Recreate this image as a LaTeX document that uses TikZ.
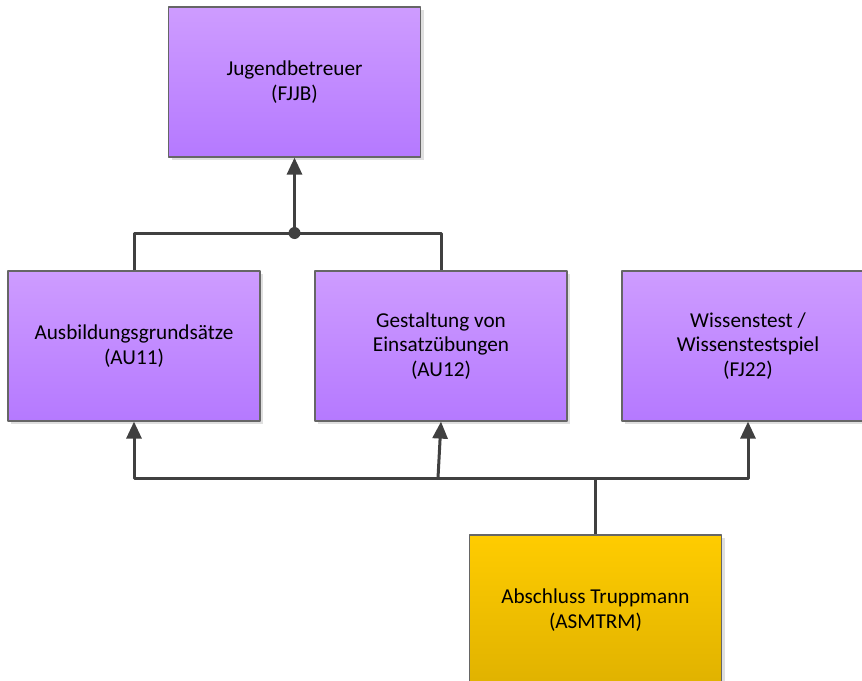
\documentclass[tikz,border=0pt]{standalone}
\usepackage{fontspec}
\setmainfont{Carlito}
\usetikzlibrary{arrows.meta,shadows}

\begin{document}
\begin{tikzpicture}[
    x = 0.5pt, y = -0.5pt,
    line join=round,
    kurs/.style = {draw=black!60, line width=0.6pt, minimum width=126pt, minimum height=75pt,
        align=center, font=\fontsize{10.6}{12.4}\selectfont,
        top color=violett, bottom color=violettd,
        drop shadow={shadow xshift=1.5pt, shadow yshift=-1.5pt, opacity=0.25}},
    ziel/.style = {kurs, top color=gelb, bottom color=gelbd},
    verb/.style = {draw=black!75, line width=1.5pt},
    pfeil/.style = {verb, -{Triangle[width=7.5pt, length=8.5pt]}}
]
\definecolor{violett}{RGB}{206,156,255}
\definecolor{violettd}{RGB}{181,121,255}
\definecolor{gelb}{RGB}{255,204,0}
\definecolor{gelbd}{RGB}{224,178,0}

\useasboundingbox (0,0) rectangle (862,680);
\clip (0,0) rectangle (862,680);

\node[kurs] (fjjb) at (294.5,82) {Jugendbetreuer\\(FJJB)};
\node[kurs] (au11) at (134,346) {Ausbildungsgrundsätze\\(AU11)};
\node[kurs] (au12) at (441,346) {Gestaltung von\\Einsatzübungen\\(AU12)};
\node[kurs] (fj22) at (748,346) {Wissenstest /\\Wissenstestspiel\\(FJ22)};
\node[ziel] (asm) at (595.5,610) {Abschluss Truppmann\\(ASMTRM)};

\coordinate (knoten) at (294.5,233);
\coordinate (split) at (595.5,478);
\coordinate (k12) at (438,478);

% obere Ebene
\draw[verb] (au11.north) |- (knoten) -| (au12.north);
\draw[pfeil] (knoten) -- (fjjb.south);
\fill[black!75] (knoten) circle (3pt);

% untere Ebene
\draw[verb] (asm.north) -- (split);
\draw[pfeil] (split) -| (fj22.south);
\draw[pfeil] (split) -| (au11.south);
\draw[pfeil] (k12) -- (au12.south);

\end{tikzpicture}
\end{document}
